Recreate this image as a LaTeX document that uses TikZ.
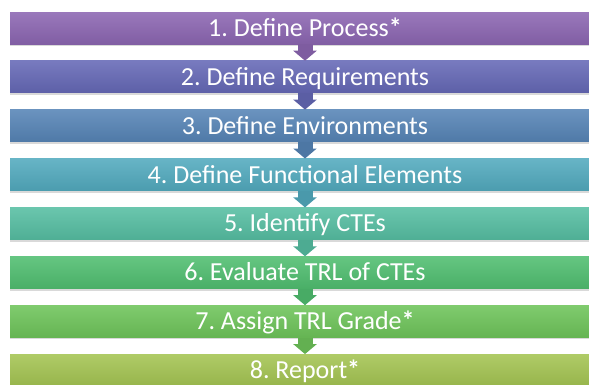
\documentclass[tikz,border=0pt]{standalone}
\usepackage{fontspec}
\setmainfont{Carlito}
\usetikzlibrary{positioning,arrows.meta,shadows}
\frenchspacing

\definecolor{stepone}{RGB}{140,102,178}
\definecolor{steptwo}{RGB}{101,104,182}
\definecolor{stepthree}{RGB}{86,132,182}
\definecolor{stepfour}{RGB}{82,170,190}
\definecolor{stepfive}{RGB}{86,190,162}
\definecolor{stepsix}{RGB}{80,190,112}
\definecolor{stepseven}{RGB}{110,196,90}
\definecolor{stepeight}{RGB}{164,196,82}

\begin{document}
\begin{tikzpicture}[%
            bar/.style={minimum width=590pt, minimum height=32pt, inner sep=0pt,
                text=white, font=\fontsize{26}{26}\selectfont,
                text height=16.7pt, text depth=0pt,
                top color=#1!88!white, bottom color=#1!92!black,
                drop shadow={shadow xshift=0pt, shadow yshift=-2pt, opacity=0.3}},
            flow/.style={line width=15pt, draw=#1!90!black,
                -{Triangle[width=23pt,length=10pt]}},
        ]
        \useasboundingbox (0pt,0pt) rectangle (589pt,-384pt);
        \node[bar=stepone] (process) at (305pt,-28pt) {1. Define Process{\bfseries*}};
        \node[bar=steptwo, below=16.5pt of process] (requirements) {2. Define Requirements};
        \node[bar=stepthree, below=16.5pt of requirements] (environments) {3. Define Environments};
        \node[bar=stepfour, below=16.5pt of environments] (elements) {4. Define Functional Elements};
        \node[bar=stepfive, below=16.5pt of elements] (ctes) {5. Identify CTEs};
        \node[bar=stepsix, below=16.5pt of ctes] (evaluate) {6. Evaluate TRL of CTEs};
        \node[bar=stepseven, below=16.5pt of evaluate] (grade) {7. Assign TRL Grade{\bfseries*}};
        \node[bar=stepeight, below=16.5pt of grade] (report) {8. Report{\bfseries*}};
        % arrows between the steps
        \foreach \from/\to/\col in {process/requirements/stepone,
                requirements/environments/steptwo,
                environments/elements/stepthree,
                elements/ctes/stepfour,
                ctes/evaluate/stepfive,
                evaluate/grade/stepsix,
                grade/report/stepseven}
            \draw[flow=\col] (\from.south) -- (\to.north);
    \end{tikzpicture}
\end{document}
